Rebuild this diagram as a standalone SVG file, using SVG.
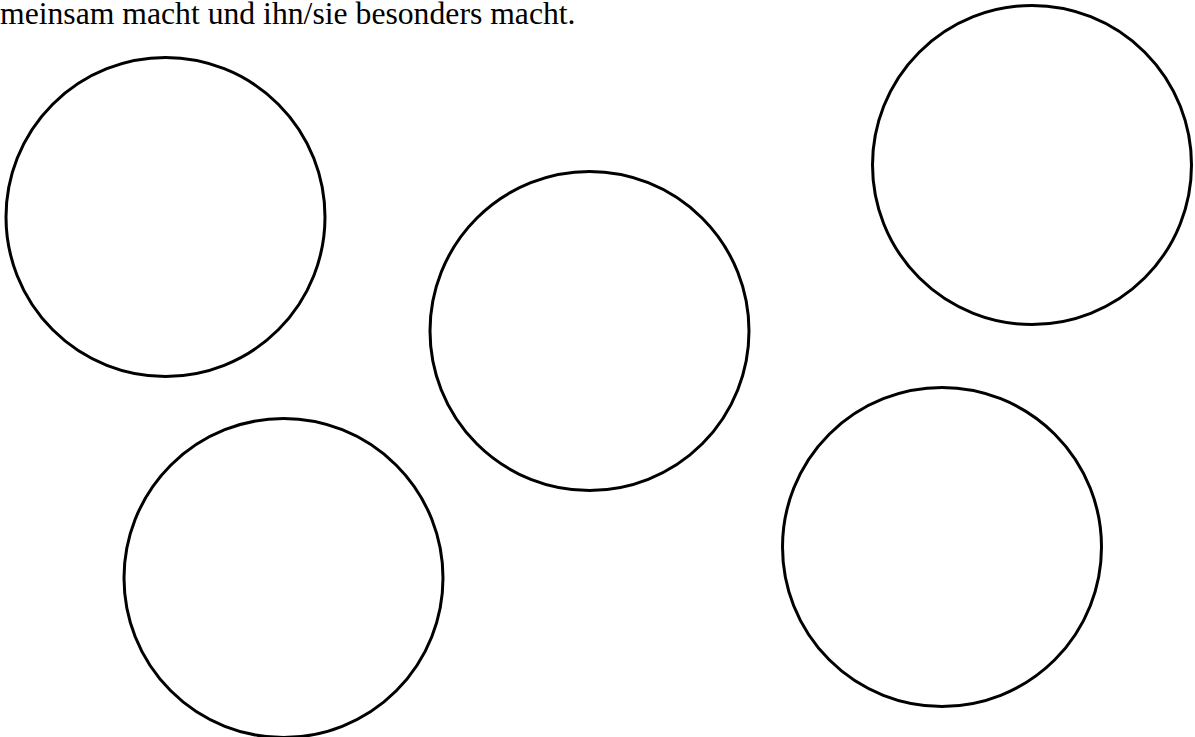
<svg xmlns="http://www.w3.org/2000/svg" width="1195" height="737" viewBox="0 0 1195 737">
<style>
.c{fill:none;stroke:#000;stroke-width:3}
.t{font-family:"Liberation Serif","Times New Roman",serif;font-size:31.7px;fill:#000}
</style>
<rect width="1195" height="737" fill="#fff"/>
<text class="t" x="0" y="24">meinsam macht und ihn/sie besonders macht.</text>
<g id="circle1"><circle class="c" cx="165.5" cy="217" r="159.5"/></g>
<g id="circle2"><circle class="c" cx="589.5" cy="331" r="159.5"/></g>
<g id="circle3"><circle class="c" cx="1032" cy="165" r="159.5"/></g>
<g id="circle4"><circle class="c" cx="283.5" cy="578" r="159.5"/></g>
<g id="circle5"><circle class="c" cx="942" cy="547" r="159.5"/></g>
<g id="connectors"></g>
</svg>
